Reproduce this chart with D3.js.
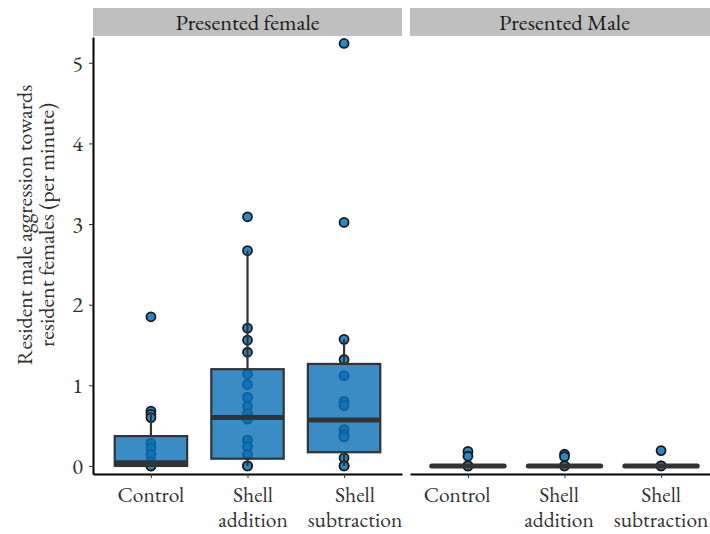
<!DOCTYPE html>
<html>
<head>
<meta charset="utf-8">
<script src="https://cdn.jsdelivr.net/npm/d3@7"></script>
<style>
  body { margin: 0; background: #fff; }
</style>
</head>
<body>
<div id="chart"></div>
<script>
// ==== Data ====
const panels = ["Presented female", "Presented Male"];
const categories = ["Control", "Shell addition", "Shell subtraction"];
const tickLines = [["Control"], ["Shell", "addition"], ["Shell", "subtraction"]];
const yTicks = [0, 1, 2, 3, 4, 5];

// box stats per panel: [lower whisker, q1, median, q3, upper whisker]
const femaleBoxes = [
    [0, 0, 0.04, 0.37, 0.67],
    [0, 0.09, 0.60, 1.20, 2.67],
    [0, 0.17, 0.57, 1.265, 1.57]
];
const maleBoxes = [
    [0, 0, 0, 0, 0],
    [0, 0, 0, 0, 0],
    [0, 0, 0, 0, 0]
];

// observed points
const femaleControl = [1.85, 0.68, 0.64, 0.60, 0.28, 0.22, 0.14, 0.05, 0, 0, 0];
const femaleAddition = [3.09, 2.67, 1.71, 1.56, 1.41, 1.14, 1.01, 0.85, 0.74, 0.65, 0.58, 0.32, 0.24, 0.14, 0, 0];
const femaleSubtraction = [5.24, 3.02, 1.57, 1.32, 1.12, 0.80, 0.75, 0.45, 0.385, 0.36, 0.10, 0, 0];
const maleControl = [0.18, 0.12, 0, 0, 0];
const maleAddition = [0.145, 0.115, 0, 0];
const maleSubtraction = [0.19, 0, 0];

const femalePoints = [femaleControl, femaleAddition, femaleSubtraction];
const malePoints = [maleControl, maleAddition, maleSubtraction];

// ==== Layout ====
const W = 710, H = 534;
const plotTop = 37, plotBottom = 474;
const stripTop = 8;
const panelX = [[93, 402], [410, 719]];
const FONT = '"EB Garamond", "Liberation Serif", serif';

const svg = d3.select("#chart").append("svg")
    .attr("width", W)
    .attr("height", H);

const y = d3.scaleLinear().domain([-0.1, 5.32]).range([plotBottom, plotTop]);

const boxFill = "rgb(9,112,181)";
const pointFill = "#2a88c8";
const dark = "#333";

const xScales = panelX.map(r => d3.scalePoint().domain(categories).range(r).padding(0.6));

function drawPanel(p, boxes, points) {
    const x = xScales[p];
    const [x0, x1] = panelX[p];
    const bw = x.step() * 0.75;
    const g = svg.append("g");

    // strip
    g.append("rect")
        .attr("x", x0).attr("y", stripTop)
        .attr("width", x1 - x0).attr("height", plotTop - 1 - stripTop)
        .attr("fill", "#bfbfbf");
    g.append("text")
        .attr("x", (x0 + x1) / 2)
        .attr("y", (stripTop + plotTop) / 2 + 7)
        .attr("text-anchor", "middle")
        .style("font-family", FONT)
        .style("font-size", "22.5px")
        .style("fill", "#1a1a1a")
        .text(panels[p]);

    // points (under the boxes)
    categories.forEach((c, i) => {
        g.selectAll(null)
            .data(points[i])
            .enter()
            .append("circle")
            .attr("cx", x(c))
            .attr("cy", d => y(d))
            .attr("r", 4.5)
            .attr("fill", pointFill)
            .attr("stroke", "#1a1a1a")
            .attr("stroke-width", 1.8);
    });

    // boxes
    categories.forEach((c, i) => {
        const [lo, q1, med, q3, hi] = boxes[i];
        const cx = x(c);
        g.append("line")
            .attr("x1", cx).attr("x2", cx)
            .attr("y1", y(q3)).attr("y2", y(hi))
            .attr("stroke", dark).attr("stroke-width", 2.2);
        g.append("line")
            .attr("x1", cx).attr("x2", cx)
            .attr("y1", y(q1)).attr("y2", y(lo))
            .attr("stroke", dark).attr("stroke-width", 2.2);
        g.append("rect")
            .attr("x", cx - bw / 2)
            .attr("y", y(q3))
            .attr("width", bw)
            .attr("height", y(q1) - y(q3))
            .attr("fill", boxFill)
            .attr("fill-opacity", 0.8)
            .attr("stroke", dark)
            .attr("stroke-width", 2.2);
        g.append("line")
            .attr("x1", cx - bw / 2).attr("x2", cx + bw / 2)
            .attr("y1", y(med)).attr("y2", y(med))
            .attr("stroke", dark)
            .attr("stroke-width", 5)
            .attr("stroke-linecap", p === 1 ? "round" : "butt");
    });

    // x axis
    const ax = g.append("g")
        .attr("transform", `translate(0,${plotBottom})`)
        .call(d3.axisBottom(x).tickSize(4).tickSizeOuter(0).tickFormat(""));
    ax.select(".domain").attr("stroke", "#000").attr("stroke-width", 2);
    ax.selectAll(".tick line").attr("stroke", dark).attr("stroke-width", 1);
}

drawPanel(0, femaleBoxes, femalePoints);
drawPanel(1, maleBoxes, malePoints);

// y axis (left panel only)
const ay = svg.append("g")
    .attr("transform", `translate(${panelX[0][0]},0)`)
    .call(d3.axisLeft(y).tickValues(yTicks).tickFormat(d3.format("d"))
        .tickSize(4).tickSizeOuter(0).tickPadding(6));
ay.attr("font-family", null).attr("font-size", null);
ay.select(".domain").attr("stroke", "#000").attr("stroke-width", 2);
ay.selectAll(".tick line").attr("stroke", dark);
ay.selectAll(".tick text")
    .style("font-family", FONT)
    .style("font-size", "22.5px")
    .style("fill", "#333");

// x tick labels, spread evenly across both panels as in the original
const labelKeys = d3.range(categories.length * panels.length);
const xLabel = d3.scalePoint()
    .domain(labelKeys)
    .range([xScales[0](categories[0]), xScales[1](categories[categories.length - 1])]);

const labelRows = [];
labelKeys.forEach(k => {
    tickLines[k % categories.length].forEach((t, row) => labelRows.push({ k, t, row }));
});

svg.selectAll("text.xlab")
    .data(labelRows)
    .enter()
    .append("text")
    .attr("class", "xlab")
    .attr("x", d => xLabel(d.k))
    .attr("y", d => 502 + d.row * 24.5)
    .attr("text-anchor", "middle")
    .style("font-family", FONT)
    .style("font-size", "21.5px")
    .style("fill", "#333")
    .text(d => d.t);

// y axis title
const ytLines = ["Resident male aggression towards", "resident females (per minute)"];
svg.selectAll("text.ytitle")
    .data(ytLines)
    .enter()
    .append("text")
    .attr("class", "ytitle")
    .attr("transform", (d, i) => `translate(${32 + i * 22},225) rotate(-90)`)
    .attr("text-anchor", "middle")
    .style("font-family", FONT)
    .style("font-size", "22px")
    .style("fill", "#333")
    .text(d => d);
</script>
</body>
</html>
